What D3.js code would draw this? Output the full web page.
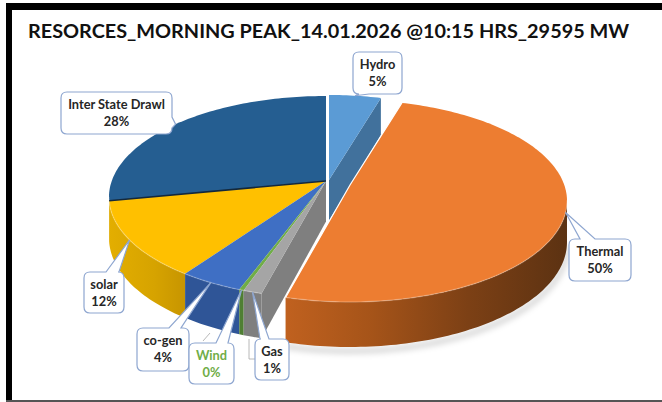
<!DOCTYPE html>
<html>
<head>
<meta charset="utf-8">
<script src="https://cdn.jsdelivr.net/npm/d3@7"></script>
<style>
  html, body { margin: 0; padding: 0; background: #fff; }
  svg { display: block; font-family: Lato, "Open Sans", sans-serif; }
</style>
</head>
<body>
<svg id="chart" width="662" height="402"></svg>
<script>
// clockwise from 12 o'clock
const categories = ["Hydro", "Thermal", "Gas", "Wind", "co-gen", "solar", "Inter State Drawl"];
const shares = [4.5, 49.6, 1.2, 0.3, 4.1, 12.2, 28.1];
const titleText = "RESORCES_MORNING PEAK_14.01.2026 @10:15 HRS_29595 MW";

const faceColors = ["#5b9bd5", "#ed7d31", "#a5a5a5", "#70ad47", "#3f6fc4", "#ffc000", "#255e91"];
const wallColors = ["#41719c", "#a04f1a", "#7f7f7f", "#4f7f33", "#2f5597", "#d2a000", "#1c4a73"];

// label boxes: x, y, w, h, side the pointer leaves from, pointer base start/end along that side
const boxes = [
  [353, 52, 49, 42, "bottom", 6, 16],
  [569, 239, 62, 42, "top", 11, 26],
  [255, 339, 34, 41, "top", 5, 14],
  [189, 343, 45, 41, "top", 27, 39],
  [137, 328, 52, 43, "top", 32, 44],
  [84, 272, 40, 41, "top", 22, 35],
  [61, 92, 111, 42, "right", 25, 36]
];

// slice offsets, the two pieces pulled out of the pie
const shifts = [[3, -1], [24, 4], [0, 0], [0, 0], [0, 0], [0, 0], [0, 0]];

const svg = d3.select("#chart");

const cx = 326, cy = 197, rx = 217, ry = 101;
const persp = 0.158; // moves the pie centre up inside the ellipse
const sq = Math.sqrt(1 - persp * persp);

function rim(a, s) {
  let u = Math.sin(a), v = Math.cos(a);
  let den = 1 + persp * v;
  let vp = (v + persp) / den;
  return { x: cx + rx * (u * sq / den) + s[0], y: cy - ry * vp + s[1], vp: vp };
}
function centre(s) {
  return { x: cx + s[0], y: cy - ry * persp + s[1], vp: persp };
}
const depth = p => 41 - 4 * p.vp;
const drop = p => ({ x: p.x, y: p.y + depth(p), vp: p.vp });

const line = d3.line().x(p => p.x).y(p => p.y);
const slices = d3.pie().sort(null).value(d => d)(shares);

function rimPoints(a0, a1, s) {
  let n = Math.max(2, Math.ceil((a1 - a0) / 0.02));
  return d3.range(n + 1).map(i => rim(a0 + (a1 - a0) * i / n, s));
}

const defs = svg.append("defs");
defs.append("filter").attr("id", "soft").append("feGaussianBlur").attr("stdDeviation", 3);
function wallGradient(id, stops) {
  let g = defs.append("linearGradient").attr("id", id);
  stops.forEach(st => g.append("stop").attr("offset", st[0]).attr("stop-color", st[1]));
}
wallGradient("wallThermal", [[0, "#c0611f"], [0.3, "#a65419"], [0.65, "#7c4015"], [1, "#5c3212"]]);
wallGradient("wallSolar", [[0, "#e3ae00"], [0.6, "#d6a300"], [1, "#c79500"]]);

function wallFill(i) {
  if (i == 1) return "url(#wallThermal)";
  if (i == 5) return "url(#wallSolar)";
  return wallColors[i];
}

function drawSlice(g, d, i) {
  let s = shifts[i];
  let pts = rimPoints(d.startAngle, d.endAngle, s);
  let tip = centre(s);
  let front = pts.filter(p => p.vp <= 0.02);

  // radial side walls that face the viewer
  if (i == 0 || i == 2) {
    let end = i == 0 ? pts[pts.length - 1] : pts[0];
    g.append("path")
      .attr("d", line([tip, end, drop(end), drop(tip)]) + "Z")
      .attr("fill", wallColors[i]);
  }
  if (front.length > 1) {
    g.append("path")
      .attr("d", line(front.concat(front.map(drop).reverse())) + "Z")
      .attr("fill", wallFill(i));
  }
  g.append("path")
    .attr("d", line([tip].concat(pts)) + "Z")
    .attr("fill", faceColors[i]);
  if (front.length > 1) {
    g.append("path")
      .attr("d", line(front))
      .attr("fill", "none")
      .attr("stroke", "#fff")
      .attr("stroke-opacity", 0.22)
      .attr("stroke-width", 1.4);
  }
}

// soft shadow under the pulled out slice
let shadowPts = rimPoints(slices[1].startAngle, slices[1].endAngle, [24, 8]).filter(p => p.vp <= 0).map(drop);
svg.append("path")
  .attr("d", line(shadowPts))
  .attr("fill", "none")
  .attr("stroke", "#000")
  .attr("stroke-opacity", 0.22)
  .attr("stroke-width", 4)
  .attr("filter", "url(#soft)");

const pie = svg.append("g");
// back to front so the nearer slices cover the others
[0, 6, 5, 4, 3, 2].forEach(i => drawSlice(pie.append("g"), slices[i], i));

// dark seam between drawl and solar
let seamEnd = rim(slices[6].startAngle, [0, 0]);
pie.append("path")
  .attr("d", line([centre([0, 0]), seamEnd]))
  .attr("stroke", "#13283c")
  .attr("stroke-width", 1.6);

let thermalG = pie.append("g");
drawSlice(thermalG, slices[1], 1);
let thermalEdge = [rim(slices[1].startAngle, shifts[1]), centre(shifts[1]), rim(slices[1].endAngle, shifts[1])];
thermalG.append("path")
  .attr("d", line(thermalEdge))
  .attr("fill", "none")
  .attr("stroke", "#fff")
  .attr("stroke-width", 1.2);

// thin grey leader stubs behind the boxes
const leaders = svg.append("g").attr("fill", "none").attr("stroke", "#a6a6a6").attr("stroke-width", 0.8);
leaders.append("path").attr("d", d3.line()([[210, 333], [203, 341]]));
leaders.append("path").attr("d", d3.line()([[249, 339], [249, 359], [255, 359]]));

function calloutPath(b, tip) {
  let [x, y, w, h, side, b0, b1] = b;
  let r = 6;
  let p = d3.path();
  p.moveTo(x + r, y);
  if (side == "top") { p.lineTo(x + b0, y); p.lineTo(tip.x, tip.y); p.lineTo(x + b1, y); }
  p.lineTo(x + w - r, y);
  p.quadraticCurveTo(x + w, y, x + w, y + r);
  if (side == "right") { p.lineTo(x + w, y + b0); p.lineTo(tip.x, tip.y); p.lineTo(x + w, y + b1); }
  p.lineTo(x + w, y + h - r);
  p.quadraticCurveTo(x + w, y + h, x + w - r, y + h);
  if (side == "bottom") { p.lineTo(x + b1, y + h); p.lineTo(tip.x, tip.y); p.lineTo(x + b0, y + h); }
  p.lineTo(x + r, y + h);
  p.quadraticCurveTo(x, y + h, x, y + h - r);
  p.lineTo(x, y + r);
  p.quadraticCurveTo(x, y, x + r, y);
  p.closePath();
  return p.toString();
}

const fmtPct = d3.format(".0f");
const labelOrder = [6, 0, 1, 5, 2, 4, 3];
labelOrder.forEach(i => {
  let b = boxes[i], d = slices[i];
  let tip = rim((d.startAngle + d.endAngle) / 2, shifts[i]);
  let g = svg.append("g");
  g.append("path")
    .attr("d", calloutPath(b, tip))
    .attr("fill", "#fff")
    .attr("stroke", "#8ea6d0")
    .attr("stroke-width", 1.2);
  let colour = categories[i] == "Wind" ? "#70ad47" : "#262626";
  let t = g.append("text")
    .attr("text-anchor", "middle")
    .attr("fill", colour)
    .attr("font-size", 12.8)
    .attr("font-weight", 700);
  let mid = b[0] + b[2] / 2;
  t.append("tspan").attr("x", mid).attr("y", b[1] + 17).text(categories[i]);
  t.append("tspan").attr("x", mid).attr("y", b[1] + 34).text(fmtPct(shares[i]) + "%");
});

svg.append("text")
  .attr("x", 28)
  .attr("y", 38)
  .attr("fill", "#111")
  .attr("font-size", 19.85)
  .attr("font-weight", 700)
  .text(titleText);

// black frame of the screenshot
svg.append("rect").attr("x", 6).attr("y", 3).attr("width", 656).attr("height", 7).attr("fill", "#000");
svg.append("rect").attr("x", 6).attr("y", 3).attr("width", 6).attr("height", 399).attr("fill", "#000");
svg.append("rect").attr("x", 6).attr("y", 400).attr("width", 656).attr("height", 2).attr("fill", "#555");
</script>
</body>
</html>
